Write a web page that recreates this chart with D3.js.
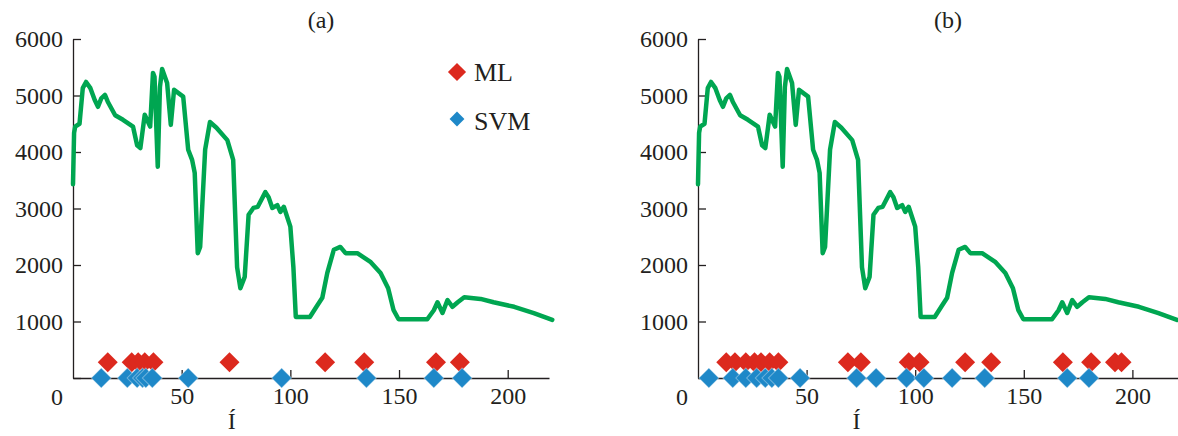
<!DOCTYPE html>
<html>
<head>
<meta charset="utf-8">
<script src="https://cdn.jsdelivr.net/npm/d3@7"></script>
<style>
body { margin: 0; background: #fff; }
text { font-family: "Liberation Serif", "Times New Roman", serif; fill: #231f20; }
.axis path, .axis line { stroke: #231f20; stroke-width: 1.3; }
.axis text { font-size: 24px; font-family: "Liberation Serif", serif; }
</style>
</head>
<body>
<svg id="chart" width="1178" height="436"></svg>
<script>
// spectrum-like curve (same in both panels)
const curveX = [0, 0.5, 1, 3, 4.5, 6, 8, 10, 11.5, 13, 14.7, 16, 19.4, 23, 27.6, 29.5, 31, 33, 35.5,
  36.8, 37.5, 39, 40, 41, 43.3, 45, 46.5, 50.7, 53, 54.8, 56, 57.4, 58.5, 60.8, 63, 66, 71, 73.7,
  75.5, 77, 79, 80.8, 83, 85, 88.5, 90, 91.7, 94, 95.4, 97, 100, 101.4, 102.5, 109, 112, 114.7,
  117, 120, 123, 125.4, 130.8, 137, 141.5, 145, 147.5, 149.8, 163, 166, 167.7, 170, 172.3, 174.6,
  177, 180, 187.5, 193.5, 203, 212, 220.5]
const curveY = [3430, 4340, 4450, 4500, 5130, 5240, 5130, 4920, 4800, 4950, 5010, 4890, 4650, 4570, 4450, 4120, 4070, 4660, 4450,
  5400, 5330, 3740, 5150, 5470, 5220, 4480, 5100, 4980, 4040, 3860, 3630, 2210, 2320, 4040, 4530, 4430, 4210, 3860,
  1960, 1590, 1790, 2890, 3010, 3030, 3290, 3200, 3010, 3060, 2940, 3030, 2680, 1960, 1080, 1080, 1260, 1420,
  1860, 2270, 2320, 2210, 2210, 2050, 1860, 1590, 1200, 1040, 1040, 1200, 1340, 1150, 1380, 1260,
  1340, 1430, 1400, 1340, 1260, 1150, 1030]

// marker positions
const mlA = [16, 27, 30, 33, 37, 72, 116, 134, 167, 178]
const svmA = [13, 25, 29.5, 32, 33.5, 36.5, 53, 96, 135, 166, 179]
const mlB = [13, 17, 22, 26, 29, 33, 37, 69, 75, 97, 102, 123, 135, 168, 181, 192, 195]
const svmB = [5, 16, 22, 27, 31, 34, 37, 47, 73, 82, 96, 104, 117, 132, 170, 180]
const mlLevel = 280
const svmLevel = 0

const xTicks = [50, 100, 150, 200]
const yTicks = [0, 1000, 2000, 3000, 4000, 5000, 6000]
const legendNames = ["ML", "SVM"]

const green = "#00a651", red = "#dc291e", blue = "#1e88c8"

const svg = d3.select("#chart")
const curve = curveX.map((x, i) => ({x: x, y: curveY[i]}))

const panels = [
  {title: "(a)", ml: mlA, svm: svmA, x0: 73, x1: 549, xMax: 219, legend: true},
  {title: "(b)", ml: mlB, svm: svmB, x0: 698, x1: 1178, xMax: 221, legend: false}
]

const yScale = d3.scaleLinear().domain([0, 6000]).range([378, 39])
const diamond = d3.symbol().type(d3.symbolSquare).size(200)

panels.forEach(function (p) {
  let g = svg.append("g")
  let xScale = d3.scaleLinear().domain([0, p.xMax]).range([p.x0, p.x1])

  // axes
  let yAxis = d3.axisLeft(yScale).tickValues(yTicks).tickFormat(d3.format("d"))
    .tickSizeInner(-8).tickSizeOuter(0).tickPadding(10)
  let yg = g.append("g").attr("class", "axis")
    .attr("transform", `translate(${p.x0},0)`)
    .call(yAxis)
  yg.selectAll(".tick text").filter(d => d === 0).attr("dy", "1.1em")

  let xAxis = d3.axisBottom(xScale).tickValues(xTicks).tickFormat(d3.format("d"))
    .tickSizeInner(-8).tickSizeOuter(0).tickPadding(9)
  g.append("g").attr("class", "axis")
    .attr("transform", `translate(0,${yScale(0)})`)
    .call(xAxis)

  // curve
  let line = d3.line().x(d => xScale(d.x)).y(d => yScale(d.y))
  g.append("path")
    .datum(curve)
    .attr("d", line)
    .attr("fill", "none")
    .attr("stroke", green)
    .attr("stroke-width", 4.5)
    .attr("stroke-linejoin", "round")
    .attr("stroke-linecap", "round")

  // markers
  g.selectAll(".ml")
    .data(p.ml)
    .enter()
    .append("path")
    .attr("class", "ml")
    .attr("d", diamond)
    .attr("transform", d => `translate(${xScale(d)},${yScale(mlLevel)}) rotate(45)`)
    .style("fill", red)

  g.selectAll(".svm")
    .data(p.svm)
    .enter()
    .append("path")
    .attr("class", "svm")
    .attr("d", diamond)
    .attr("transform", d => `translate(${xScale(d)},${yScale(svmLevel)}) rotate(45)`)
    .style("fill", blue)
    .style("stroke", "#fff")
    .style("stroke-opacity", 0.35)
    .style("stroke-width", 1)

  // title and x label
  g.append("text")
    .attr("x", (p.x0 + p.x1) / 2 + 10)
    .attr("y", 28)
    .attr("text-anchor", "middle")
    .style("font-size", "24px")
    .text(p.title)

  g.append("text")
    .attr("x", xScale(73))
    .attr("y", 429)
    .attr("text-anchor", "middle")
    .style("font-size", "24px")
    .text("Í")

  if (p.legend) {
    let lg = g.append("g")
    lg.append("path")
      .attr("d", d3.symbol().type(d3.symbolSquare).size(165))
      .attr("transform", "translate(457,72) rotate(45)")
      .style("fill", red)
    lg.append("path")
      .attr("d", d3.symbol().type(d3.symbolSquare).size(110))
      .attr("transform", "translate(457,119) rotate(45)")
      .style("fill", blue)
    lg.selectAll(".lt")
      .data(legendNames)
      .enter()
      .append("text")
      .attr("x", 474)
      .attr("y", (d, i) => 81 + i * 49)
      .style("font-size", "26px")
      .text(d => d)
  }
})
</script>
</body>
</html>
